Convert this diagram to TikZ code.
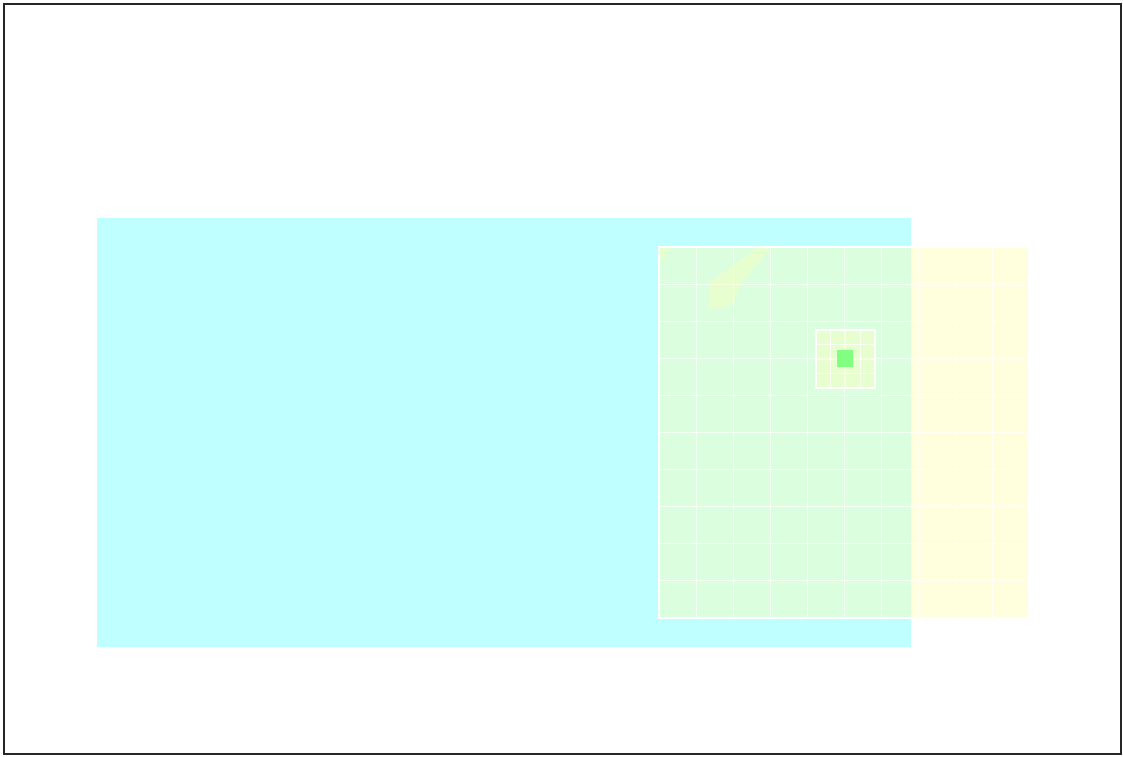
\documentclass[tikz,border=0pt]{standalone}
\usepackage{tikz}

\definecolor{skyfill}{RGB}{192,255,255}
\definecolor{lemonfill}{RGB}{255,255,180}
\definecolor{spotfill}{RGB}{128,255,128}

\tikzset{
  frame/.style={draw=black!85, line width=1.5pt},
  zone/.style={fill=skyfill},
  layer/.style={fill=lemonfill, fill opacity=0.44},
  cellline/.style={draw=white, draw opacity=0.75, line width=1pt},
  edge/.style={draw=white, line width=1.6pt},
  streak/.style={fill=lemonfill, fill opacity=0.35},
  spot/.style={fill=spotfill}
}

\begin{document}
\begin{tikzpicture}[x=1pt, y=-1pt]
  \useasboundingbox (0,0) rectangle (1123,756);
  \draw[frame] (4,4) rectangle (1121,754);
  % background region
  \fill[zone] (97,218) rectangle (911,647);
  % overlay grid
  \fill[layer] (659,247) rectangle (1029,618);
  \foreach \i in {1,...,9} {
    \draw[cellline] ({659+37.0*\i},247) -- ({659+37.0*\i},618);
    \draw[cellline] (659,{247+37.1*\i}) -- (1029,{247+37.1*\i});
  }
  \draw[edge] (659,247) rectangle (1029,618);
  % streaks
  \fill[streak] (757,248) -- (770,248) -- (740,285) -- (732,305)
    -- (709,310) -- (709,283) -- cycle;
  \fill[streak] (660,248) -- (670,248) -- (660,262) -- cycle;
  % zoomed cell
  \fill[streak] (816,330) rectangle (875,388);
  \foreach \j in {1,2,3} {
    \draw[cellline, line width=0.8pt] ({816+14.75*\j},330) -- ({816+14.75*\j},388);
    \draw[cellline, line width=0.8pt] (816,{330+14.5*\j}) -- (875,{330+14.5*\j});
  }
  \draw[edge, line width=1.3pt] (816,330) rectangle (875,388);
  \fill[spot] (837,350) rectangle (853,367);
\end{tikzpicture}
\end{document}
